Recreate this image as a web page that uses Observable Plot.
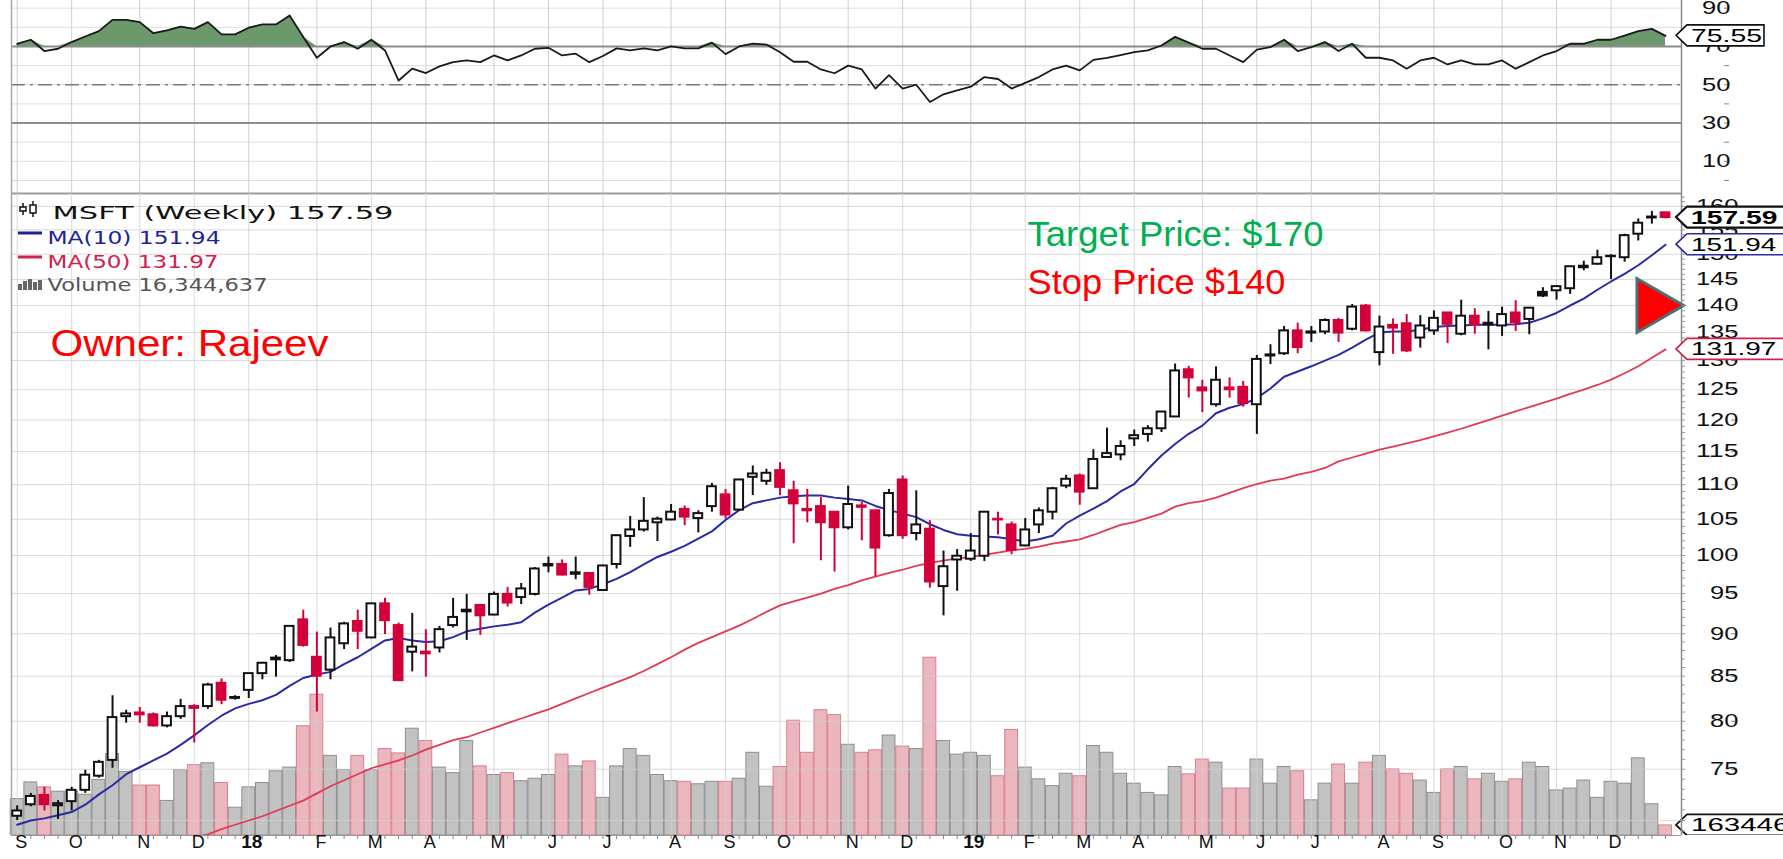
<!DOCTYPE html>
<html><head><meta charset="utf-8">
<script src="https://cdn.jsdelivr.net/npm/d3@7"></script>
<script src="https://cdn.jsdelivr.net/npm/@observablehq/plot@0.6"></script>
<style>
body{margin:0;background:#fff;}
#chart{position:relative;width:1783px;height:859px;overflow:hidden;background:#fff;}
</style></head><body><div id="chart"></div>
<script>
// ---------- data (weekly MSFT, Sep 2017 - Dec 2019) ----------
const firstWeek = "2017-09-04", lastWeek = "2019-12-30";
const open = [70.4,71.5,72.4,71.4,71.8,72.9,74.3,75.9,80.5,80.9,
80.7,79.5,80.5,81.6,81.6,84.2,82.5,83.4,85.3,86.9,
86.8,91.7,87.2,85.7,88.8,91.5,89.5,93.7,91.0,87.8,
87.8,88.3,91.0,92.7,93.5,92.3,94.9,94.5,94.9,98.6,
98.8,97.5,97.6,95.4,98.8,102.6,103.5,104.5,104.9,106.4,
105.1,106.8,108.5,106.3,111.1,110.5,112.1,109.1,106.4,106.8,
106.0,103.8,106.9,106.2,102.7,110.7,103.0,103.6,95.9,99.4,
99.5,99.9,105.0,104.2,101.3,104.2,106.0,109.8,111.3,109.4,
114.1,114.5,117.0,117.7,118.6,120.5,128.4,125.3,122.5,125.3,
125.4,122.5,130.8,131.2,135.3,134.9,135.1,137.2,135.6,139.9,
131.4,136.3,136.6,134.0,135.3,138.6,134.7,138.0,136.4,136.2,
138.6,137.4,142.5,142.8,143.2,147.3,148.0,149.5,149.3,154.1,
157.5,158.6];
const high = [71.4,72.6,73.2,71.9,73.2,74.9,75.9,82.8,81.2,81.5,
80.9,81.0,82.4,81.8,84.2,84.7,82.8,85.3,86.6,87.4,
90.9,92.9,90.2,90.7,91.4,92.9,93.7,94.4,91.3,92.5,
90.5,90.9,94.4,94.9,93.6,95.2,95.8,96.3,98.4,99.8,
99.4,99.8,97.7,98.7,102.8,105.4,108.1,105.3,107.1,106.9,
106.2,110.2,109.3,110.8,112.8,112.3,113.3,110.5,109.3,108.1,
106.0,109.8,107.4,106.3,109.3,111.3,109.1,104.8,100.6,100.8,
103.0,106.0,106.0,104.6,105.1,106.6,109.6,111.4,111.6,115.3,
118.7,116.7,118.4,119.1,121.3,129.4,129.0,126.6,128.9,127.0,
126.4,130.9,132.8,136.1,136.7,136.1,137.5,137.6,140.2,140.2,
138.0,137.5,138.3,138.1,139.0,138.6,141.0,139.4,138.9,139.7,
140.9,139.6,143.4,143.8,147.5,148.6,150.8,149.9,154.1,157.3,
158.9,158.7];
const low = [70.0,71.3,70.9,70.1,70.9,72.6,74.1,75.1,79.8,79.8,
79.4,79.3,80.2,77.7,81.3,81.8,82.3,82.5,84.6,84.9,
86.6,88.4,81.0,84.6,88.1,88.1,89.5,89.9,84.5,85.5,
84.9,87.7,90.7,89.2,89.8,92.2,93.3,93.6,94.7,97.7,
97.3,96.8,94.8,95.3,98.2,101.1,103.2,101.9,104.8,104.1,
103.1,106.0,105.0,106.2,108.4,109.9,108.4,101.6,104.5,99.3,
97.8,103.5,102.0,97.2,102.5,102.2,102.0,95.7,92.2,95.3,
99.2,99.2,102.8,100.1,101.2,103.0,104.9,109.4,107.0,109.4,
114.0,113.6,115.8,116.5,118.0,120.5,123.6,121.2,122.1,123.6,
122.1,117.7,129.3,130.9,131.2,133.2,134.6,133.2,135.3,135.1,
129.1,131.1,131.4,132.2,134.5,133.0,134.4,134.7,131.9,134.3,
135.2,134.6,141.5,141.0,142.1,146.7,147.8,145.0,148.4,152.7,
156.2,157.3];
const close = [70.9,72.3,71.5,71.6,72.9,74.4,75.7,80.4,80.8,80.7,
79.5,80.5,81.6,81.4,84.0,82.3,82.6,85.3,86.5,87.1,
90.9,88.6,85.0,89.5,91.2,90.3,93.7,91.6,84.5,88.4,
87.6,90.5,92.0,92.9,92.2,94.9,93.8,95.6,98.2,98.8,
97.4,97.7,95.8,98.6,102.7,103.5,104.7,105.0,106.0,105.3,
105.8,109.7,105.6,110.7,111.6,111.7,109.6,107.2,106.2,104.5,
103.8,107.1,106.7,101.0,108.7,102.7,104.2,96.5,98.5,99.9,
100.6,106.0,104.9,100.7,103.5,106.2,109.4,110.8,108.9,113.8,
114.7,115.8,117.5,118.6,121.3,128.2,127.0,124.8,126.6,125.0,
122.7,130.2,131.0,135.3,132.3,135.1,137.2,134.9,139.7,135.3,
136.0,135.8,131.7,136.2,137.6,136.5,138.0,136.4,136.7,138.3,
136.8,139.5,141.8,143.6,147.5,147.6,149.3,149.6,153.8,156.4,
157.7,157.59];
// weekly volume, millions of shares
const volume = [59,86,78,71,71,66,90,132,103,81,
81,56,106,114,117,85,45,78,85,104,
110,177,228,129,106,129,106,140,133,173,
153,110,101,153,112,98,101,88,92,98,
131,112,120,61,112,140,129,98,88,87,
83,87,87,92,134,79,111,186,134,203,
195,147,134,138,162,144,140,288,153,131,
134,129,96,171,110,91,80,100,96,145,
134,100,84,69,65,111,99,123,118,76,
76,123,84,111,104,57,84,115,84,118,
129,107,100,89,69,107,111,91,100,87,
91,118,111,73,76,89,61,87,84,125,
50.7,16.344637];
const ma10 = [69.6,70.0,70.2,70.5,70.8,71.5,72.5,73.4,74.5,75.2,
75.9,76.6,77.5,78.5,79.6,80.6,81.4,81.9,82.3,82.9,
83.9,84.8,85.2,85.5,86.4,87.2,88.2,89.2,89.5,89.2,
89.0,89.1,89.6,90.3,90.6,90.9,91.1,91.4,92.6,93.6,
94.5,95.4,95.6,96.2,96.9,97.8,98.8,99.8,100.5,101.3,
102.3,103.3,104.9,106.3,107.3,107.7,108.1,108.3,108.4,108.4,
108.1,107.9,107.7,106.9,106.3,105.8,105.3,104.3,103.5,102.9,
102.7,102.6,102.5,102.2,101.9,102.2,102.7,104.4,105.5,106.5,
107.6,109.0,110.1,112.3,114.4,116.2,117.8,119.1,121.1,122.0,
122.6,123.6,125.2,127.2,128.1,129.0,130.0,131.0,132.3,133.7,
135.0,135.2,135.2,135.5,136.0,136.2,136.3,136.4,136.4,136.4,
136.5,136.8,137.6,138.6,140.0,141.3,143.0,144.6,146.1,147.8,
149.8,151.94];
const ma50 = [null,null,null,null,null,null,null,null,null,null,
null,null,null,68.4,68.7,69.2,69.6,70.0,70.4,70.9,
71.4,71.9,72.6,73.3,73.9,74.5,75.1,75.5,75.9,76.4,
77.0,77.5,78.0,78.3,78.8,79.3,79.8,80.3,80.8,81.3,
81.9,82.5,83.1,83.7,84.3,84.9,85.6,86.4,87.2,88.1,
88.9,89.6,90.3,91.0,91.8,92.7,93.5,94.0,94.5,95.0,
95.6,96.1,96.7,97.2,97.7,98.1,98.6,99.0,99.3,99.6,
99.8,100.1,100.4,100.7,100.9,101.2,101.6,101.9,102.2,102.8,
103.5,104.2,104.6,105.2,105.8,106.8,107.3,107.6,108.1,108.8,
109.5,110.1,110.6,110.9,111.5,111.9,112.5,113.5,114.1,114.7,
115.3,115.8,116.3,116.8,117.4,118.0,118.6,119.3,120.0,120.7,
121.4,122.1,122.8,123.5,124.3,125.0,125.8,126.7,127.8,129.0,
130.5,131.97];
const rsi = [71.4,73.5,67.6,68.8,72.3,75.2,78.0,83.9,83.9,82.7,
76.9,78.4,80.4,79.2,82.7,76.3,76.3,79.8,81.5,81.5,
86.2,74.9,64.1,70.0,72.3,68.8,73.5,67.9,52.2,58.4,
56.1,59.6,61.8,62.7,61.8,65.3,62.7,65.3,68.8,69.3,
65.3,66.2,61.8,65,69,68,69,68,70,69,
69,72,66,70,71.5,71,67,62,62,58,
56,60,58,48,55,48,50,41,45,47,
49,54,53,48,51,54,58,60,57.5,63,
64,65.5,67,68,70.5,75,72,68.8,68.8,65.3,
61.8,68.3,69.6,73.5,67.6,69.6,72.3,67.6,71.4,64.1,
64.1,62.7,58.4,62.7,64.1,60.6,62.7,60.6,60.6,62.7,
58.4,61.8,65.3,67.6,71.4,71.4,73.5,73.5,75.7,78.0,
79.2,75.55];
const monthLetters = ["J","F","M","A","M","J","J","A","S","O","N","D"];
const priceTicks = [75,80,85,90,95,100,105,110,115,120,125,130,135,140,145,150,155,160];
const priceGrid = [70,75,80,85,90,95,100,105,110,115,120,125,130,135,140,145,150,155,160];
const priceMinor = d3.range(69, 163);
const rsiTicks = [0,10,20,30,40,50,60,70,80,90];
const rsiLabels = [10,30,50,70,90];
const rsiBands = [70, 50, 30];
const ticker = "MSFT", stopPrice = 140, targetPrice = 170, owner = "Rajeev";

// ---------- build table ----------
const W = 1783;
const dates = d3.utcMonday.range(new Date(firstWeek + "T00:00Z"), d3.utcDay.offset(new Date(lastWeek + "T00:00Z"), 1));
const rows = dates.map((date, i) => ({
  date, open: open[i], high: high[i], low: low[i], close: close[i],
  volume: volume[i], ma10: ma10[i], ma50: ma50[i], rsi: rsi[i],
  up: i === 0 ? true : close[i] >= close[i - 1],
  hollow: close[i] >= open[i]
}));
const monthStarts = rows
  .filter((d, i) => i === 0 || d.date.getUTCMonth() !== rows[i - 1].date.getUTCMonth())
  .map(d => {
    const m = d.date.getUTCMonth();
    return {date: d.date, year: m === 0, label: m === 0 ? String(d.date.getUTCFullYear()).slice(2) : monthLetters[m]};
  });
const shift = (d, days) => new Date(+d + days * 864e5);
const xDomain = [new Date(Date.UTC(2017, 8, 1, 2)), new Date(Date.UTC(2020, 0, 7, 5))];
const priceDomain = [68.60, 162.78];
const rsiDomain = [-6.8, 94.0];
const RED = "#d3003a", BLK = "#111";
const col = d => d.up ? BLK : RED;
const FONT = "Liberation Sans, Arial, sans-serif";
const GRID = "#cfcfcf";

// ---------- RSI panel ----------
const rsiPlot = Plot.plot({
  width: W, height: 193, marginLeft: 11, marginRight: 102, marginTop: 0, marginBottom: 0,
  x: {type: "utc", domain: xDomain, axis: null},
  y: {domain: rsiDomain, axis: null},
  style: {background: "transparent", fontFamily: FONT, fontSize: "18px", color: "#111", overflow: "visible"},
  marks: [
    Plot.ruleY(rsiTicks, {stroke: "#dedede"}),
    Plot.ruleX(monthStarts, {x: "date", stroke: GRID}),
    Plot.areaY(rows, {x: "date", y1: 70, y2: d => Math.max(70, d.rsi), fill: "#6c996c"}),
    Plot.ruleY([rsiBands[0], rsiBands[2]], {stroke: "#8c8c8c", strokeWidth: 2}),
    Plot.ruleY([rsiBands[1]], {stroke: "#7a7a7a", strokeWidth: 1.4, strokeDasharray: "14,5,3,5"}),
    Plot.lineY(rows, {x: "date", y: "rsi", stroke: "#1a1a1a", strokeWidth: 1.8}),
    Plot.ruleX([xDomain[0]], {stroke: "#a8a8a8", strokeWidth: 1.5}),
    Plot.ruleX([xDomain[1]], {stroke: "#8a8a8a", strokeWidth: 1.5}),
    Plot.ruleY([rsiDomain[0]], {stroke: "#9a9a9a", strokeWidth: 2}),
    Plot.axisY({anchor: "right", ticks: rsiTicks, tickSize: 5, tickPadding: 2, label: null,
      tickFormat: d => rsiLabels.includes(d) ? String(d) : "", textAnchor: "end", dx: 42, stroke: "#888"})
  ]
});

// ---------- volume layer ----------
const volPlot = Plot.plot({
  width: W, height: 642, marginLeft: 11, marginRight: 102, marginTop: 0, marginBottom: 0,
  x: {type: "utc", domain: xDomain, axis: null},
  y: {domain: [0, 1040], axis: null},
  style: {background: "transparent"},
  marks: [
    Plot.rectY(rows, {x1: d => shift(d.date, -3.3), x2: d => shift(d.date, 3.3), y: "volume",
      fill: d => d.up ? "#c2c2c2" : "#ebb6be", stroke: d => d.up ? "#8f8f8f" : "#d9808e", strokeWidth: 1})
  ]
});

// ---------- price layer ----------
const last = rows[rows.length - 1];
const pricePlot = Plot.plot({
  width: W, height: 666, marginLeft: 11, marginRight: 102, marginTop: 0, marginBottom: 24,
  x: {type: "utc", domain: xDomain, axis: null},
  y: {type: "log", domain: priceDomain, axis: null},
  style: {background: "transparent", fontFamily: FONT, fontSize: "18px", color: "#111", overflow: "visible"},
  marks: [
    Plot.ruleY(priceGrid, {stroke: GRID, strokeOpacity: 0.8}),
    Plot.ruleX(monthStarts, {x: "date", stroke: GRID, strokeOpacity: 0.8}),
    Plot.ruleX([xDomain[0]], {stroke: "#a8a8a8", strokeWidth: 1.5}),
    Plot.ruleX([xDomain[1]], {stroke: "#8a8a8a", strokeWidth: 1.5}),
    Plot.ruleY([priceDomain[0]], {stroke: "#9a9a9a", strokeWidth: 1.2}),
    Plot.ruleX(rows, {x: "date", insetTop: 642, insetBottom: -4, stroke: "#888"}),
    Plot.lineY(rows, {x: "date", y: "ma50", stroke: "#e23a55", strokeWidth: 1.8, clip: true}),
    Plot.lineY(rows, {x: "date", y: "ma10", stroke: "#2a2aa3", strokeWidth: 2, clip: true}),
    Plot.ruleX(rows, {x: "date", y1: "low", y2: "high", stroke: col, strokeWidth: 2}),
    Plot.rect(rows, {x1: d => shift(d.date, -2.25), x2: d => shift(d.date, 2.25), y1: "open", y2: "close",
      fill: d => d.hollow ? "#fff" : col(d), stroke: col, strokeWidth: 2}),
    Plot.dot([{date: last.date, p: stopPrice}], {x: "date", y: "p", symbol: "triangle", rotate: 90, r: 20, dx: -13,
      fill: "#ff0000", stroke: "#4d6f78", strokeWidth: 3}),
    Plot.text(monthStarts.filter(d => !d.year), {x: "date", text: "label", frameAnchor: "bottom", dy: 12, dx: 4,
      fontSize: 18, fill: "#111"}),
    Plot.text(monthStarts.filter(d => d.year), {x: "date", text: "label", frameAnchor: "bottom", dy: 12, dx: 3,
      fontSize: 19, fontWeight: "bold", fill: "#111"}),
    Plot.axisY({anchor: "right", ticks: priceMinor, tickSize: 3, tickFormat: () => "", label: null, stroke: "#999"}),
    Plot.axisY({anchor: "right", ticks: priceTicks, tickSize: 6, tickPadding: 2, label: null,
      tickFormat: d => String(d), textAnchor: "end", dx: 49, stroke: "#888"}),
    Plot.text([`${ticker} (Weekly) ${close[close.length - 1]}`], {frameAnchor: "top-left", dx: 41, dy: 25,
      lineAnchor: "bottom", textAnchor: "start", fontFamily: "DejaVu Sans", fontSize: 17, fill: "#111"}),
    Plot.text([`MA(10) ${ma10[ma10.length - 1]}`], {frameAnchor: "top-left", dx: 36, dy: 50,
      lineAnchor: "bottom", textAnchor: "start", fontFamily: "DejaVu Sans", fontSize: 17, fill: "#1f1f9a"}),
    Plot.text([`MA(50) ${ma50[ma50.length - 1]}`], {frameAnchor: "top-left", dx: 36, dy: 74,
      lineAnchor: "bottom", textAnchor: "start", fontFamily: "DejaVu Sans", fontSize: 17, fill: "#d2204c"}),
    Plot.text([`Volume ${d3.format(",")(Math.round(volume[volume.length - 1] * 1e6))}`], {frameAnchor: "top-left", dx: 36, dy: 97,
      lineAnchor: "bottom", textAnchor: "start", fontFamily: "DejaVu Sans", fontSize: 17, fill: "#555"}),
    Plot.text([`Owner: ${owner}`], {frameAnchor: "top-left", dx: 39, dy: 162,
      lineAnchor: "bottom", textAnchor: "start", fontSize: 37, fill: "#ff0000"}),
    Plot.text([`Target Price: $${targetPrice}`], {frameAnchor: "top-left", dx: 1016, dy: 52,
      lineAnchor: "bottom", textAnchor: "start", fontSize: 35, fill: "#00b050"}),
    Plot.text([`Stop Price $${stopPrice}`], {frameAnchor: "top-left", dx: 1016, dy: 100,
      lineAnchor: "bottom", textAnchor: "start", fontSize: 35, fill: "#ff0000"})
  ]
});

// ---------- assemble ----------
const chart = d3.select("#chart");
[[rsiPlot, 0], [volPlot, 193], [pricePlot, 193]].forEach(([svg, top]) => {
  d3.select(svg).style("position", "absolute").style("left", "0px").style("top", top + "px")
    .style("max-width", "none");
  chart.node().appendChild(svg);
});

// stretch text to match the wide rendering of the original screenshot
const widths = {};
widths[`${ticker} (Weekly) ${close[close.length - 1]}`] = 341;
widths[`MA(10) ${ma10[ma10.length - 1]}`] = 173;
widths[`MA(50) ${ma50[ma50.length - 1]}`] = 171;
widths[`Volume ${d3.format(",")(Math.round(volume[volume.length - 1] * 1e6))}`] = 220;
widths[`Owner: ${owner}`] = 278;
widths[`Target Price: $${targetPrice}`] = 296;
widths[`Stop Price $${stopPrice}`] = 258;
d3.selectAll("#chart text").each(function() {
  const t = this.textContent;
  if (widths[t]) d3.select(this).attr("textLength", widths[t]).attr("lengthAdjust", "spacingAndGlyphs");
});
d3.selectAll('#chart [aria-label="y-axis tick label"] text').each(function() {
  const t = this.textContent;
  if (t) d3.select(this).attr("textLength", t.length * 14.2).attr("lengthAdjust", "spacingAndGlyphs");
});

// value tags on the right axis
function tag(plot, value, label, color, bold, sw, charW, boxEnd) {
  const y = plot.scale("y").apply(value);
  const g = d3.select(plot).append("g").attr("text-anchor", "start");
  const xTip = 1676, xBox = 1687, h = 10.5;
  g.append("path").attr("d", `M${xTip},${y}L${xBox},${y - h}H${boxEnd}V${y + h}H${xBox}Z`)
    .attr("fill", "#fff").attr("stroke", color).attr("stroke-width", sw);
  g.append("text").attr("x", 1691).attr("y", y).attr("dy", "0.36em").attr("text-anchor", "start")
    .attr("font-family", FONT).attr("font-size", 18).attr("font-weight", bold ? "bold" : "normal")
    .attr("fill", "#000").attr("textLength", label.length * charW).attr("lengthAdjust", "spacingAndGlyphs")
    .text(label);
}
tag(rsiPlot, rsi[rsi.length - 1], rsi[rsi.length - 1].toFixed(2), "#111", false, 1.6, 14.2, 1764);
tag(pricePlot, ma50[ma50.length - 1], ma50[ma50.length - 1].toFixed(2), "#d2204c", false, 1.6, 14.2, W + 20);
tag(pricePlot, ma10[ma10.length - 1], ma10[ma10.length - 1].toFixed(2), "#2a2aa3", false, 1.6, 14.2, W + 20);
tag(pricePlot, close[close.length - 1], close[close.length - 1].toFixed(2), "#111", true, 2.2, 14.4, W + 20);
tag(volPlot, volume[volume.length - 1], String(Math.round(volume[volume.length - 1] * 1e6)), "#111", false, 1.8, 16.4, W + 20);

// small legend glyphs
const lg = d3.select(pricePlot).append("g");
lg.append("line").attr("x1", 18).attr("x2", 42).attr("y1", 40).attr("y2", 40).attr("stroke", "#1f1f9a").attr("stroke-width", 3);
lg.append("line").attr("x1", 18).attr("x2", 42).attr("y1", 64).attr("y2", 64).attr("stroke", "#d2204c").attr("stroke-width", 3);
[[18, 91], [23, 88], [28, 86], [33, 89], [38, 87]].forEach(([x, y]) =>
  lg.append("rect").attr("x", x).attr("y", y).attr("width", 4).attr("height", 97 - y).attr("fill", "#666"));
[[20, 12, 20], [30, 10, 22]].forEach(([x, y1, y2]) => {
  lg.append("line").attr("x1", x + 3).attr("x2", x + 3).attr("y1", y1 - 2).attr("y2", y2 + 2).attr("stroke", "#111").attr("stroke-width", 1.5);
  lg.append("rect").attr("x", x).attr("y", y1 + 2).attr("width", 6).attr("height", y2 - y1 - 4).attr("fill", "#fff").attr("stroke", "#111").attr("stroke-width", 1.5);
});
</script></body></html>
